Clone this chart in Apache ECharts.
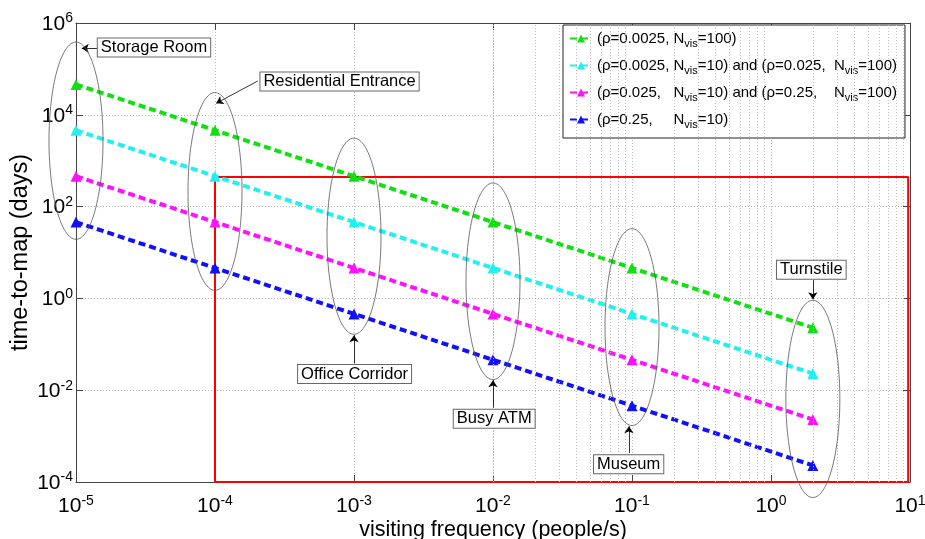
<!DOCTYPE html>
<html>
<head>
<meta charset="utf-8">
<script src="https://cdn.jsdelivr.net/npm/echarts@6/dist/echarts.min.js"></script>
<style>
  html, body { margin: 0; padding: 0; background: #fff; }
  #main { width: 925px; height: 539px; }
</style>
</head>
<body>
<div id="main"></div>
<script>
// visiting frequency (people/s) for each place
const freq = [1e-5, 1e-4, 1e-3, 1e-2, 1e-1, 2];
// time-to-map (days)
const tGreen = [46000, 4600, 460, 46, 4.6, 0.23];
const tCyan = [4600, 460, 46, 4.6, 0.46, 0.023];
const tMagenta = [460, 46, 4.6, 0.46, 0.046, 0.0023];
const tBlue = [46, 4.6, 0.46, 0.046, 0.0046, 0.00023];

const seriesNames = [
  '(ρ=0.0025, N{s|vis}=100)',
  '(ρ=0.0025, N{s|vis}=10) and (ρ=0.025,  N{s|vis}=100)',
  '(ρ=0.025,   N{s|vis}=10) and (ρ=0.25,    N{s|vis}=100)',
  '(ρ=0.25,     N{s|vis}=10)'
];
const seriesColors = ['#10e010', '#20f0f0', '#ff10ff', '#1010ff'];

// red box (x from, x to, y from, y to)
const boxX = [1e-4, 9.7];
const boxY = [1e-4, 440];

// decades on the x axis, used for the minor grid
const xDecades = [1e-5, 1e-4, 1e-3, 1e-2, 1e-1, 1];
const minorSteps = [2, 3, 4, 5, 6, 7, 8, 9];

// place groups: x of the group, top and bottom of the ellipse (days)
const groupX = [1e-5, 1e-4, 1e-3, 1e-2, 1e-1, 2];
const ellTop = [3.85e5, 3.05e4, 3.1e3, 327, 33, 0.91];
const ellBottom = [19.4, 1.5, 0.165, 0.017, 1.7e-3, 4.6e-5];

// labels: text, box center, arrow start, arrow tip
const labelText = ['Storage Room', 'Residential Entrance', 'Office Corridor', 'Busy ATM', 'Museum', 'Turnstile'];
const labelPos = [[3.64e-5, 2.93e5], [7.87e-4, 5.31e4], [1.01e-3, 0.0224], [1.02e-2, 2.4e-3], [0.0946, 2.45e-4], [1.95, 4.2]];
const arrowFrom = [[1.42e-5, 2.81e5], [2.03e-4, 5.45e4], [1e-3, 0.038], [1e-2, 4.18e-3], [0.095, 4.28e-4], [2, 2.48]];
const arrowTo = [[1.1e-5, 2.81e5], [1.02e-4, 1.78e4], [1e-3, 0.157], [1e-2, 0.0164], [0.095, 1.64e-3], [2, 0.955]];

const FONT = '"Liberation Sans", Arial, Helvetica, sans-serif';

const minorX = [];
xDecades.forEach(d => minorSteps.forEach(k => minorX.push(d * k)));

function powLabel(v) {
  const e = Math.round(Math.log10(v));
  return '{b|10}{e|' + e + '}';
}
const powRich = {
  b: { fontSize: 21, fontFamily: FONT, color: '#000', verticalAlign: 'bottom' },
  e: { fontSize: 14, fontFamily: FONT, color: '#000', verticalAlign: 'top', padding: [0, 0, 9, 0] }
};

const chart = echarts.init(document.getElementById('main'));

const dataSeries = [tGreen, tCyan, tMagenta, tBlue].map((vals, i) => ({
  name: seriesNames[i],
  type: 'line',
  z: 3,
  data: freq.map((f, j) => [f, vals[j]]),
  symbol: 'triangle',
  symbolSize: 11,
  color: seriesColors[i],
  itemStyle: { color: seriesColors[i] },
  lineStyle: { color: seriesColors[i], width: 4, type: [7, 4] }
}));

const option = {
  animation: false,
  backgroundColor: '#fff',
  grid: { left: 76, top: 23, right: 15, bottom: 57, outerBoundsMode: 'none', containLabel: false },
  legend: {
    data: seriesNames,
    orient: 'vertical',
    left: 563,
    top: 25,
    padding: [6, 8, 8, 6],
    itemGap: 9,
    itemWidth: 22,
    itemHeight: 10,
    backgroundColor: '#fff',
    borderColor: '#222',
    borderWidth: 1,
    borderRadius: 0,
    textStyle: {
      fontSize: 15,
      fontFamily: FONT,
      color: '#000',
      rich: {
        s: { fontSize: 11, fontFamily: FONT, color: '#000', verticalAlign: 'bottom', padding: [10, 0, 0, 0] }
      }
    }
  },
  xAxis: [{
    type: 'log',
    logBase: 10,
    min: 1e-5,
    max: 10,
    splitNumber: 6,
    name: 'visiting frequency (people/s)',
    nameLocation: 'middle',
    nameGap: 37,
    nameMoveOverlap: false,
    nameTextStyle: { fontSize: 21.5, fontFamily: FONT, color: '#000' },
    axisLine: { show: true, onZero: false, lineStyle: { color: '#444', width: 1 } },
    axisTick: { show: true, inside: true, length: 7, lineStyle: { color: '#444' } },
    axisLabel: { formatter: powLabel, rich: powRich, margin: 12 },
    splitLine: { show: true, lineStyle: { color: '#b8b8b8', type: [1, 2], width: 1 } },
    minorTick: { show: false },
    minorSplitLine: { show: false }
  }, {
    type: 'log',
    logBase: 10,
    min: 1e-5,
    max: 10,
    splitNumber: 6,
    position: 'top',
    axisLine: { show: true, onZero: false, lineStyle: { color: '#444', width: 1 } },
    axisTick: { show: true, inside: true, length: 7, lineStyle: { color: '#444' } },
    axisLabel: { show: false },
    splitLine: { show: false }
  }],
  yAxis: [{
    type: 'log',
    logBase: 10,
    min: 1e-4,
    max: 1e6,
    interval: 2,
    name: 'time-to-map (days)',
    nameLocation: 'middle',
    nameGap: 43,
    nameMoveOverlap: false,
    nameTextStyle: { fontSize: 23.5, fontFamily: FONT, color: '#000' },
    axisLine: { show: true, onZero: false, lineStyle: { color: '#444', width: 1 } },
    axisTick: { show: true, inside: true, length: 7, lineStyle: { color: '#444' } },
    axisLabel: { formatter: powLabel, rich: powRich, margin: 3 },
    splitLine: { show: true, lineStyle: { color: '#b8b8b8', type: [1, 2], width: 1 } }
  }, {
    type: 'log',
    logBase: 10,
    min: 1e-4,
    max: 1e6,
    interval: 2,
    position: 'right',
    axisLine: { show: true, onZero: false, lineStyle: { color: '#444', width: 1 } },
    axisTick: { show: true, inside: true, length: 7, lineStyle: { color: '#444' } },
    axisLabel: { show: false },
    splitLine: { show: false }
  }],
  series: [{
    name: 'minor-grid',
    type: 'line',
    z: 1,
    data: [],
    silent: true,
    markLine: {
      silent: true,
      symbol: ['none', 'none'],
      label: { show: false },
      lineStyle: { color: '#c0c0c0', type: [1, 2], width: 1 },
      data: minorX.filter(v => v < 10).map(v => ({ xAxis: v }))
    }
  }, {
    name: 'box',
    type: 'line',
    z: 2,
    clip: false,
    silent: true,
    symbol: 'none',
    lineStyle: { color: '#ff0000', width: 2 },
    data: [[boxX[0], boxY[1]], [boxX[1], boxY[1]], [boxX[1], boxY[0]], [boxX[0], boxY[0]], [boxX[0], boxY[1]]]
  }].concat(dataSeries).concat([{
    name: 'notes',
    type: 'line',
    z: 6,
    data: [],
    silent: true,
    markLine: {
      silent: true,
      symbol: ['none', 'arrow'],
      symbolSize: 7,
      label: { show: false },
      lineStyle: { color: '#000', type: 'solid', width: 0.8 },
      data: arrowFrom.map((p, i) => [{ coord: p }, { coord: arrowTo[i] }])
    },
    markPoint: {
      silent: true,
      symbol: 'rect',
      symbolSize: 1,
      itemStyle: { color: 'rgba(0,0,0,0)' },
      label: {
        show: true,
        position: 'inside',
        fontSize: 16.5,
        fontFamily: FONT,
        color: '#000',
        backgroundColor: '#fff',
        borderColor: '#666',
        borderWidth: 1,
        padding: [1, 3, 0, 3]
      },
      data: labelText.map((t, i) => ({ coord: labelPos[i], value: t, label: { formatter: t } }))
    }
  }])
};

chart.setOption(option);

// ellipses round each place group
const ellipses = groupX.map((x, i) => {
  const pt = chart.convertToPixel({ xAxisIndex: 0, yAxisIndex: 0 }, [x, ellTop[i]]);
  const pb = chart.convertToPixel({ xAxisIndex: 0, yAxisIndex: 0 }, [x, ellBottom[i]]);
  return {
    type: 'ellipse',
    z: 5,
    silent: true,
    shape: { cx: pt[0], cy: (pt[1] + pb[1]) / 2, rx: 27, ry: (pb[1] - pt[1]) / 2 },
    style: { fill: 'none', stroke: '#555', lineWidth: 0.8 }
  };
});
chart.setOption({ graphic: ellipses });
</script>
</body>
</html>
